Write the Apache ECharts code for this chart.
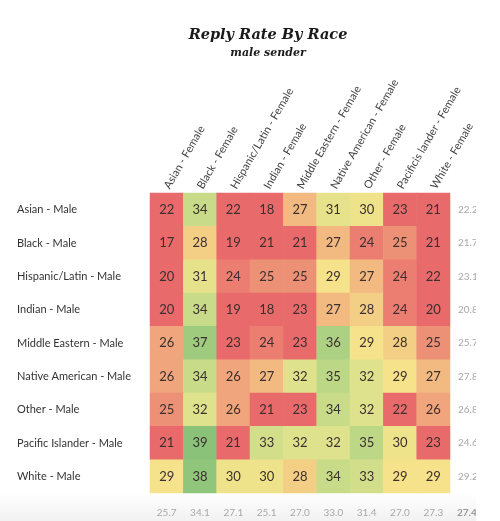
<!DOCTYPE html>
<html><head><meta charset="utf-8">
<script src="https://cdn.jsdelivr.net/npm/echarts@6/dist/echarts.min.js"></script>
<style>
html,body{margin:0;padding:0;background:#fff;}
#wrap{position:absolute;left:0;top:0;width:476px;height:521px;overflow:hidden;
 background:linear-gradient(to bottom,#ffffff 0px,#ffffff 494px,#f1f1f1 521px);}
#chart{position:absolute;left:0;top:0;width:500px;height:521px;}
</style></head>
<body>
<div id="wrap"><div id="chart"></div></div>
<script>
var rowNames = ['Asian - Male','Black - Male','Hispanic/Latin - Male','Indian - Male','Middle Eastern - Male','Native American - Male','Other - Male','Pacific Islander - Male','White - Male'];
var colNames = ['Asian - Female','Black - Female','Hispanic/Latin - Female','Indian - Female','Middle Eastern - Female','Native American - Female','Other - Female','Pacificis lander - Female','White - Female'];
var asianMale          = [22,34,22,18,27,31,30,23,21];
var blackMale          = [17,28,19,21,21,27,24,25,21];
var hispanicMale       = [20,31,24,25,25,29,27,24,22];
var indianMale         = [20,34,19,18,23,27,28,24,20];
var middleEasternMale  = [26,37,23,24,23,36,29,28,25];
var nativeAmericanMale = [26,34,26,27,32,35,32,29,27];
var otherMale          = [25,32,26,21,23,34,32,22,26];
var pacificMale        = [21,39,21,33,32,32,35,30,23];
var whiteMale          = [29,38,30,30,28,34,33,29,29];
var rowAvgLabels = ['22.2','21.7','23.1','20.8','25.7','27.8','26.8','24.6','29.2'];
var colAvgLabels = ['25.7','34.1','27.1','25.1','27.0','33.0','31.4','27.0','27.3'];
var totalAvgLabel = '27.4';

var rows = [asianMale,blackMale,hispanicMale,indianMale,middleEasternMale,nativeAmericanMale,otherMale,pacificMale,whiteMale];
var data = [];
rows.forEach(function(r, ri){ r.forEach(function(v, ci){ data.push([ci, ri, v]); }); });

var chart = echarts.init(document.getElementById('chart'), null, {renderer:'canvas'});
var labelFont = 'Lato, "Open Sans", sans-serif';
chart.setOption({
  animation:false,
  title:{
    text:'Reply Rate By Race', subtext:'male sender',
    left:263, top:23, textAlign:'center', itemGap:5,
    textStyle:{fontFamily:'"DejaVu Serif", serif', fontStyle:'italic', fontWeight:'bold', fontSize:14.5, color:'#1a1a1a'},
    subtextStyle:{fontFamily:'"DejaVu Serif", serif', fontStyle:'italic', fontWeight:'bold', fontSize:11, color:'#1a1a1a'}
  },
  grid:{left:150, top:193, width:300, height:300, containLabel:false},
  xAxis:[{
    type:'category', data:colNames, position:'top',
    axisLine:{show:false}, axisTick:{show:false}, splitLine:{show:false},
    axisLabel:{rotate:-60, margin:5, interval:0, fontSize:11, color:'#444', fontFamily:labelFont}
  },{
    type:'category', data:colAvgLabels, position:'bottom',
    axisLine:{show:false}, axisTick:{show:false},
    axisLabel:{margin:15, interval:0, fontSize:10, color:'#a8a8a8', fontFamily:labelFont}
  }],
  yAxis:[{
    type:'category', data:rowNames, inverse:true, position:'left',
    axisLine:{show:false}, axisTick:{show:false},
    axisLabel:{margin:133, align:'left', interval:0, fontSize:11, color:'#333', fontFamily:labelFont}
  },{
    type:'category', data:rowAvgLabels, inverse:true, position:'right',
    axisLine:{show:false}, axisTick:{show:false},
    axisLabel:{margin:8, align:'left', interval:0, fontSize:10, color:'#a8a8a8', fontFamily:labelFont}
  }],
  visualMap:{
    show:false, type:'continuous', min:14, max:41, dimension:2,
    inRange:{color:['#e86a6b','#e86a6b','#e86a6b','#e86a6b','#f0a57c','#f5e28a','#dfe28c','#bcd786','#90c57c','#80bd76']}
  },
  graphic:[{
    type:'text', left:457, top:508,
    style:{text:totalAvgLabel, fontSize:10, fontWeight:'bold', fill:'#999', fontFamily:labelFont}
  }],
  series:[{
    type:'heatmap', data:data, xAxisIndex:0, yAxisIndex:0,
    itemStyle:{borderWidth:0},
    label:{show:true, fontSize:13, color:'#3b2f2f', fontFamily:labelFont},
    emphasis:{disabled:true}
  }]
});
</script>
</body></html>
